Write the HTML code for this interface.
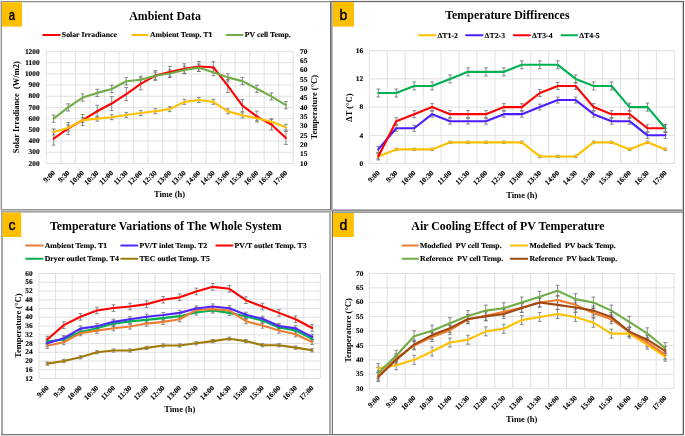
<!DOCTYPE html>
<html><head><meta charset="utf-8"><title>figure</title>
<style>
html,body{margin:0;padding:0;background:#fff;width:685px;height:436px;overflow:hidden;}
svg{display:block;will-change:transform;filter:blur(0.25px);}
text{font-family:"Liberation Serif",serif;font-weight:bold;fill:#000;}
text.tk{stroke:#000;stroke-width:0.12px;text-rendering:geometricPrecision;}
text.sans{font-family:"Liberation Sans",sans-serif;font-weight:normal;stroke:#000;stroke-width:0.45px;}
</style></head><body>
<svg width="685" height="436" viewBox="0 0 685 436">
<rect width="685" height="436" fill="#fff"/>
<path d="M46.4 163.5H293.2M46.4 152.29H293.2M46.4 141.08H293.2M46.4 129.87H293.2M46.4 118.66H293.2M46.4 107.45H293.2M46.4 96.24H293.2M46.4 85.03H293.2M46.4 73.82H293.2M46.4 62.61H293.2M46.4 51.4H293.2M46.4 51.4V163.5M60.92 51.4V163.5M75.44 51.4V163.5M89.95 51.4V163.5M104.47 51.4V163.5M118.99 51.4V163.5M133.51 51.4V163.5M148.02 51.4V163.5M162.54 51.4V163.5M177.06 51.4V163.5M191.58 51.4V163.5M206.09 51.4V163.5M220.61 51.4V163.5M235.13 51.4V163.5M249.65 51.4V163.5M264.16 51.4V163.5M278.68 51.4V163.5M293.2 51.4V163.5" stroke="#dcdcdc" stroke-width="0.9" fill="none"/>
<path d="M53.66 132.08V145.08M51.76 132.08h3.8M51.76 145.08h3.8M68.18 122.47V134.47M66.28 122.47h3.8M66.28 134.47h3.8M82.69 114.56V125.56M80.79 114.56h3.8M80.79 125.56h3.8M97.21 105.25V117.25M95.31 105.25h3.8M95.31 117.25h3.8M111.73 96.55V110.55M109.83 96.55h3.8M109.83 110.55h3.8M126.25 87.54V100.54M124.35 87.54h3.8M124.35 100.54h3.8M140.76 77.83V89.83M138.86 77.83h3.8M138.86 89.83h3.8M155.28 70.62V80.62M153.38 70.62h3.8M153.38 80.62h3.8M169.8 66.42V77.42M167.9 66.42h3.8M167.9 77.42h3.8M184.32 63.82V73.82M182.42 63.82h3.8M182.42 73.82h3.8M198.84 61.51V71.51M196.94 61.51h3.8M196.94 71.51h3.8M213.35 61.71V72.71M211.45 61.71h3.8M211.45 72.71h3.8M227.87 79.43V92.43M225.97 79.43h3.8M225.97 92.43h3.8M242.39 99.65V111.65M240.49 99.65h3.8M240.49 111.65h3.8M256.91 111.06V122.06M255.01 111.06h3.8M255.01 122.06h3.8M271.42 119.07V130.07M269.52 119.07h3.8M269.52 130.07h3.8M285.94 131.48V144.48M284.04 131.48h3.8M284.04 144.48h3.8M53.66 128.93V134.93M51.76 128.93h3.8M51.76 134.93h3.8M68.18 125V131M66.28 125h3.8M66.28 131h3.8M82.69 117.65V122.65M80.79 117.65h3.8M80.79 122.65h3.8M97.21 116.16V121.16M95.31 116.16h3.8M95.31 121.16h3.8M111.73 114.67V119.67M109.83 114.67h3.8M109.83 119.67h3.8M126.25 112.42V117.42M124.35 112.42h3.8M124.35 117.42h3.8M140.76 110.56V115.56M138.86 110.56h3.8M138.86 115.56h3.8M155.28 108.69V113.69M153.38 108.69h3.8M153.38 113.69h3.8M169.8 106.63V111.63M167.9 106.63h3.8M167.9 111.63h3.8M184.32 99.34V104.34M182.42 99.34h3.8M182.42 104.34h3.8M198.84 97.48V102.48M196.94 97.48h3.8M196.94 102.48h3.8M213.35 99.34V104.34M211.45 99.34h3.8M211.45 104.34h3.8M227.87 108.87V113.87M225.97 108.87h3.8M225.97 113.87h3.8M242.39 112.8V117.8M240.49 112.8h3.8M240.49 117.8h3.8M256.91 115.79V120.79M255.01 115.79h3.8M255.01 120.79h3.8M271.42 119.15V124.15M269.52 119.15h3.8M269.52 124.15h3.8M285.94 124.25V130.25M284.04 124.25h3.8M284.04 130.25h3.8M53.66 115.06V122.26M51.76 115.06h3.8M51.76 122.26h3.8M68.18 103.85V111.05M66.28 103.85h3.8M66.28 111.05h3.8M82.69 93.95V101.15M80.79 93.95h3.8M80.79 101.15h3.8M97.21 89.28V96.48M95.31 89.28h3.8M95.31 96.48h3.8M111.73 85.35V92.55M109.83 85.35h3.8M109.83 92.55h3.8M126.25 77.69V84.89M124.35 77.69h3.8M124.35 84.89h3.8M140.76 76.2V83.4M138.86 76.2h3.8M138.86 83.4h3.8M155.28 72.09V79.29M153.38 72.09h3.8M153.38 79.29h3.8M169.8 69.85V77.05M167.9 69.85h3.8M167.9 77.05h3.8M184.32 66.3V73.5M182.42 66.3h3.8M182.42 73.5h3.8M198.84 64.05V71.25M196.94 64.05h3.8M196.94 71.25h3.8M213.35 68.54V75.74M211.45 68.54h3.8M211.45 75.74h3.8M227.87 73.77V80.97M225.97 73.77h3.8M225.97 80.97h3.8M242.39 77.51V84.71M240.49 77.51h3.8M240.49 84.71h3.8M256.91 85.17V92.37M255.01 85.17h3.8M255.01 92.37h3.8M271.42 92.83V100.03M269.52 92.83h3.8M269.52 100.03h3.8M285.94 101.61V108.81M284.04 101.61h3.8M284.04 108.81h3.8" stroke="#6e6e6e" stroke-width="0.8" fill="none"/>
<path d="M53.66 138.58 L68.18 128.47 L82.69 120.06 L97.21 111.25 L111.73 103.55 L126.25 94.04 L140.76 83.83 L155.28 75.62 L169.8 71.92 L184.32 68.82 L198.84 66.51 L213.35 67.21 L227.87 85.93 L242.39 105.65 L256.91 116.56 L271.42 124.57 L285.94 137.98" stroke="#ff0000" stroke-width="2.1" fill="none" stroke-linejoin="round" stroke-linecap="round"/>
<path d="M53.66 131.93 L68.18 128 L82.69 120.15 L97.21 118.66 L111.73 117.17 L126.25 114.92 L140.76 113.06 L155.28 111.19 L169.8 109.13 L184.32 101.84 L198.84 99.98 L213.35 101.84 L227.87 111.37 L242.39 115.3 L256.91 118.29 L271.42 121.65 L285.94 127.25" stroke="#ffc000" stroke-width="2.1" fill="none" stroke-linejoin="round" stroke-linecap="round"/>
<path d="M53.66 118.66 L68.18 107.45 L82.69 97.55 L97.21 92.88 L111.73 88.95 L126.25 81.29 L140.76 79.8 L155.28 75.69 L169.8 73.45 L184.32 69.9 L198.84 67.65 L213.35 72.14 L227.87 77.37 L242.39 81.11 L256.91 88.77 L271.42 96.43 L285.94 105.21" stroke="#70ad47" stroke-width="2.1" fill="none" stroke-linejoin="round" stroke-linecap="round"/>
<text class="tk" font-size="7.15" text-anchor="end" transform="translate(39.6 165.7) scale(1.03 1)">200</text>
<text class="tk" font-size="7.15" text-anchor="end" transform="translate(39.6 154.49) scale(1.03 1)">300</text>
<text class="tk" font-size="7.15" text-anchor="end" transform="translate(39.6 143.28) scale(1.03 1)">400</text>
<text class="tk" font-size="7.15" text-anchor="end" transform="translate(39.6 132.07) scale(1.03 1)">500</text>
<text class="tk" font-size="7.15" text-anchor="end" transform="translate(39.6 120.86) scale(1.03 1)">600</text>
<text class="tk" font-size="7.15" text-anchor="end" transform="translate(39.6 109.65) scale(1.03 1)">700</text>
<text class="tk" font-size="7.15" text-anchor="end" transform="translate(39.6 98.44) scale(1.03 1)">800</text>
<text class="tk" font-size="7.15" text-anchor="end" transform="translate(39.6 87.23) scale(1.03 1)">900</text>
<text class="tk" font-size="7.15" text-anchor="end" transform="translate(39.6 76.02) scale(1.03 1)">1000</text>
<text class="tk" font-size="7.15" text-anchor="end" transform="translate(39.6 64.81) scale(1.03 1)">1100</text>
<text class="tk" font-size="7.15" text-anchor="end" transform="translate(39.6 53.6) scale(1.03 1)">1200</text>
<text class="tk" font-size="7.15" text-anchor="start" transform="translate(300 165.7) scale(1.03 1)">10</text>
<text class="tk" font-size="7.15" text-anchor="start" transform="translate(300 156.36) scale(1.03 1)">15</text>
<text class="tk" font-size="7.15" text-anchor="start" transform="translate(300 147.02) scale(1.03 1)">20</text>
<text class="tk" font-size="7.15" text-anchor="start" transform="translate(300 137.67) scale(1.03 1)">25</text>
<text class="tk" font-size="7.15" text-anchor="start" transform="translate(300 128.33) scale(1.03 1)">30</text>
<text class="tk" font-size="7.15" text-anchor="start" transform="translate(300 118.99) scale(1.03 1)">35</text>
<text class="tk" font-size="7.15" text-anchor="start" transform="translate(300 109.65) scale(1.03 1)">40</text>
<text class="tk" font-size="7.15" text-anchor="start" transform="translate(300 100.31) scale(1.03 1)">45</text>
<text class="tk" font-size="7.15" text-anchor="start" transform="translate(300 90.97) scale(1.03 1)">50</text>
<text class="tk" font-size="7.15" text-anchor="start" transform="translate(300 81.63) scale(1.03 1)">55</text>
<text class="tk" font-size="7.15" text-anchor="start" transform="translate(300 72.28) scale(1.03 1)">60</text>
<text class="tk" font-size="7.15" text-anchor="start" transform="translate(300 62.94) scale(1.03 1)">65</text>
<text class="tk" font-size="7.15" text-anchor="start" transform="translate(300 53.6) scale(1.03 1)">70</text>
<text class="tk" font-size="7.15" text-anchor="end" transform="translate(55.66 173.3) rotate(-45) scale(1.03 1)">9:00</text>
<text class="tk" font-size="7.15" text-anchor="end" transform="translate(70.18 173.3) rotate(-45) scale(1.03 1)">9:30</text>
<text class="tk" font-size="7.15" text-anchor="end" transform="translate(84.69 173.3) rotate(-45) scale(1.03 1)">10:00</text>
<text class="tk" font-size="7.15" text-anchor="end" transform="translate(99.21 173.3) rotate(-45) scale(1.03 1)">10:30</text>
<text class="tk" font-size="7.15" text-anchor="end" transform="translate(113.73 173.3) rotate(-45) scale(1.03 1)">11:00</text>
<text class="tk" font-size="7.15" text-anchor="end" transform="translate(128.25 173.3) rotate(-45) scale(1.03 1)">11:30</text>
<text class="tk" font-size="7.15" text-anchor="end" transform="translate(142.76 173.3) rotate(-45) scale(1.03 1)">12:00</text>
<text class="tk" font-size="7.15" text-anchor="end" transform="translate(157.28 173.3) rotate(-45) scale(1.03 1)">12:30</text>
<text class="tk" font-size="7.15" text-anchor="end" transform="translate(171.8 173.3) rotate(-45) scale(1.03 1)">13:00</text>
<text class="tk" font-size="7.15" text-anchor="end" transform="translate(186.32 173.3) rotate(-45) scale(1.03 1)">13:30</text>
<text class="tk" font-size="7.15" text-anchor="end" transform="translate(200.84 173.3) rotate(-45) scale(1.03 1)">14:00</text>
<text class="tk" font-size="7.15" text-anchor="end" transform="translate(215.35 173.3) rotate(-45) scale(1.03 1)">14:30</text>
<text class="tk" font-size="7.15" text-anchor="end" transform="translate(229.87 173.3) rotate(-45) scale(1.03 1)">15:00</text>
<text class="tk" font-size="7.15" text-anchor="end" transform="translate(244.39 173.3) rotate(-45) scale(1.03 1)">15:30</text>
<text class="tk" font-size="7.15" text-anchor="end" transform="translate(258.91 173.3) rotate(-45) scale(1.03 1)">16:00</text>
<text class="tk" font-size="7.15" text-anchor="end" transform="translate(273.42 173.3) rotate(-45) scale(1.03 1)">16:30</text>
<text class="tk" font-size="7.15" text-anchor="end" transform="translate(287.94 173.3) rotate(-45) scale(1.03 1)">17:00</text>
<text x="169.5" y="197.2" font-size="8.5" text-anchor="middle">Time (h)</text>
<text x="19.2" y="107.2" font-size="8.5" text-anchor="middle" transform="rotate(-90 19.2 107.2)" style="white-space:pre">Solar Irradiance  (W/m2)</text>
<text x="317.1" y="107.2" font-size="8.5" text-anchor="middle" transform="rotate(-90 317.1 107.2)">Temperature (°C)</text>
<text x="165" y="19.6" font-size="11.9" text-anchor="middle">Ambient Data</text>
<path d="M43.2 34.9H59.7" stroke="#ff0000" stroke-width="2" stroke-linecap="round"/>
<text class="tk" font-size="7.5" text-anchor="start" transform="translate(61.8 37.3) scale(1.04 1)" style="white-space:pre">Solar Irradiance</text>
<path d="M132.1 34.9H147.8" stroke="#ffc000" stroke-width="2" stroke-linecap="round"/>
<text class="tk" font-size="7.5" text-anchor="start" transform="translate(149.9 37.3) scale(1.04 1)" style="white-space:pre">Ambient Temp. T1</text>
<path d="M226.6 34.9H242.7" stroke="#70ad47" stroke-width="2" stroke-linecap="round"/>
<text class="tk" font-size="7.5" text-anchor="start" transform="translate(244.8 37.3) scale(1.04 1)" style="white-space:pre">PV cell Temp.</text>
<path d="M369.3 163.5H674.4M369.3 135.3H674.4M369.3 107.1H674.4M369.3 78.9H674.4M369.3 50.7H674.4M369.3 50.7V163.5M387.25 50.7V163.5M405.19 50.7V163.5M423.14 50.7V163.5M441.09 50.7V163.5M459.04 50.7V163.5M476.98 50.7V163.5M494.93 50.7V163.5M512.88 50.7V163.5M530.82 50.7V163.5M548.77 50.7V163.5M566.72 50.7V163.5M584.66 50.7V163.5M602.61 50.7V163.5M620.56 50.7V163.5M638.51 50.7V163.5M656.45 50.7V163.5M674.4 50.7V163.5" stroke="#dcdcdc" stroke-width="0.9" fill="none"/>
<path d="M378.27 153.95V158.95M376.37 153.95h3.8M376.37 158.95h3.8M396.22 148.2V150.6M394.32 148.2h3.8M394.32 150.6h3.8M414.17 148.2V150.6M412.27 148.2h3.8M412.27 150.6h3.8M432.11 148.2V150.6M430.21 148.2h3.8M430.21 150.6h3.8M450.06 141.15V143.55M448.16 141.15h3.8M448.16 143.55h3.8M468.01 141.15V143.55M466.11 141.15h3.8M466.11 143.55h3.8M485.96 141.15V143.55M484.06 141.15h3.8M484.06 143.55h3.8M503.9 141.15V143.55M502 141.15h3.8M502 143.55h3.8M521.85 141.15V143.55M519.95 141.15h3.8M519.95 143.55h3.8M539.8 155.25V157.65M537.9 155.25h3.8M537.9 157.65h3.8M557.74 155.25V157.65M555.84 155.25h3.8M555.84 157.65h3.8M575.69 155.25V157.65M573.79 155.25h3.8M573.79 157.65h3.8M593.64 141.15V143.55M591.74 141.15h3.8M591.74 143.55h3.8M611.59 141.15V143.55M609.69 141.15h3.8M609.69 143.55h3.8M629.53 148.2V150.6M627.63 148.2h3.8M627.63 150.6h3.8M647.48 141.15V143.55M645.58 141.15h3.8M645.58 143.55h3.8M665.43 148.2V150.6M663.53 148.2h3.8M663.53 150.6h3.8M378.27 146.4V152.4M376.37 146.4h3.8M376.37 152.4h3.8M396.22 125.25V131.25M394.32 125.25h3.8M394.32 131.25h3.8M414.17 125.25V131.25M412.27 125.25h3.8M412.27 131.25h3.8M432.11 111.15V117.15M430.21 111.15h3.8M430.21 117.15h3.8M450.06 118.2V124.2M448.16 118.2h3.8M448.16 124.2h3.8M468.01 118.2V124.2M466.11 118.2h3.8M466.11 124.2h3.8M485.96 118.2V124.2M484.06 118.2h3.8M484.06 124.2h3.8M503.9 111.15V117.15M502 111.15h3.8M502 117.15h3.8M521.85 111.15V117.15M519.95 111.15h3.8M519.95 117.15h3.8M539.8 104.1V110.1M537.9 104.1h3.8M537.9 110.1h3.8M557.74 97.05V103.05M555.84 97.05h3.8M555.84 103.05h3.8M575.69 97.05V103.05M573.79 97.05h3.8M573.79 103.05h3.8M593.64 111.15V117.15M591.74 111.15h3.8M591.74 117.15h3.8M611.59 118.2V124.2M609.69 118.2h3.8M609.69 124.2h3.8M629.53 118.2V124.2M627.63 118.2h3.8M627.63 124.2h3.8M647.48 132.3V138.3M645.58 132.3h3.8M645.58 138.3h3.8M665.43 132.3V138.3M663.53 132.3h3.8M663.53 138.3h3.8M378.27 152.95V159.95M376.37 152.95h3.8M376.37 159.95h3.8M396.22 117.7V124.7M394.32 117.7h3.8M394.32 124.7h3.8M414.17 110.65V117.65M412.27 110.65h3.8M412.27 117.65h3.8M432.11 103.6V110.6M430.21 103.6h3.8M430.21 110.6h3.8M450.06 110.65V117.65M448.16 110.65h3.8M448.16 117.65h3.8M468.01 110.65V117.65M466.11 110.65h3.8M466.11 117.65h3.8M485.96 110.65V117.65M484.06 110.65h3.8M484.06 117.65h3.8M503.9 103.6V110.6M502 103.6h3.8M502 110.6h3.8M521.85 103.6V110.6M519.95 103.6h3.8M519.95 110.6h3.8M539.8 89.5V96.5M537.9 89.5h3.8M537.9 96.5h3.8M557.74 82.45V89.45M555.84 82.45h3.8M555.84 89.45h3.8M575.69 82.45V89.45M573.79 82.45h3.8M573.79 89.45h3.8M593.64 103.6V110.6M591.74 103.6h3.8M591.74 110.6h3.8M611.59 110.65V117.65M609.69 110.65h3.8M609.69 117.65h3.8M629.53 110.65V117.65M627.63 110.65h3.8M627.63 117.65h3.8M647.48 124.75V131.75M645.58 124.75h3.8M645.58 131.75h3.8M665.43 124.75V131.75M663.53 124.75h3.8M663.53 131.75h3.8M378.27 89V97M376.37 89h3.8M376.37 97h3.8M396.22 89V97M394.32 89h3.8M394.32 97h3.8M414.17 81.95V89.95M412.27 81.95h3.8M412.27 89.95h3.8M432.11 81.95V89.95M430.21 81.95h3.8M430.21 89.95h3.8M450.06 74.9V82.9M448.16 74.9h3.8M448.16 82.9h3.8M468.01 67.85V75.85M466.11 67.85h3.8M466.11 75.85h3.8M485.96 67.85V75.85M484.06 67.85h3.8M484.06 75.85h3.8M503.9 67.85V75.85M502 67.85h3.8M502 75.85h3.8M521.85 60.8V68.8M519.95 60.8h3.8M519.95 68.8h3.8M539.8 60.8V68.8M537.9 60.8h3.8M537.9 68.8h3.8M557.74 60.8V68.8M555.84 60.8h3.8M555.84 68.8h3.8M575.69 74.9V82.9M573.79 74.9h3.8M573.79 82.9h3.8M593.64 81.95V89.95M591.74 81.95h3.8M591.74 89.95h3.8M611.59 81.95V89.95M609.69 81.95h3.8M609.69 89.95h3.8M629.53 103.1V111.1M627.63 103.1h3.8M627.63 111.1h3.8M647.48 103.1V111.1M645.58 103.1h3.8M645.58 111.1h3.8M665.43 124.25V132.25M663.53 124.25h3.8M663.53 132.25h3.8" stroke="#6e6e6e" stroke-width="0.8" fill="none"/>
<path d="M378.27 156.45 L396.22 149.4 L414.17 149.4 L432.11 149.4 L450.06 142.35 L468.01 142.35 L485.96 142.35 L503.9 142.35 L521.85 142.35 L539.8 156.45 L557.74 156.45 L575.69 156.45 L593.64 142.35 L611.59 142.35 L629.53 149.4 L647.48 142.35 L665.43 149.4" stroke="#ffc000" stroke-width="2.1" fill="none" stroke-linejoin="round" stroke-linecap="round"/>
<path d="M378.27 149.4 L396.22 128.25 L414.17 128.25 L432.11 114.15 L450.06 121.2 L468.01 121.2 L485.96 121.2 L503.9 114.15 L521.85 114.15 L539.8 107.1 L557.74 100.05 L575.69 100.05 L593.64 114.15 L611.59 121.2 L629.53 121.2 L647.48 135.3 L665.43 135.3" stroke="#4b1eff" stroke-width="2.1" fill="none" stroke-linejoin="round" stroke-linecap="round"/>
<path d="M378.27 156.45 L396.22 121.2 L414.17 114.15 L432.11 107.1 L450.06 114.15 L468.01 114.15 L485.96 114.15 L503.9 107.1 L521.85 107.1 L539.8 93 L557.74 85.95 L575.69 85.95 L593.64 107.1 L611.59 114.15 L629.53 114.15 L647.48 128.25 L665.43 128.25" stroke="#ff0000" stroke-width="2.1" fill="none" stroke-linejoin="round" stroke-linecap="round"/>
<path d="M378.27 93 L396.22 93 L414.17 85.95 L432.11 85.95 L450.06 78.9 L468.01 71.85 L485.96 71.85 L503.9 71.85 L521.85 64.8 L539.8 64.8 L557.74 64.8 L575.69 78.9 L593.64 85.95 L611.59 85.95 L629.53 107.1 L647.48 107.1 L665.43 128.25" stroke="#00b050" stroke-width="2.1" fill="none" stroke-linejoin="round" stroke-linecap="round"/>
<text class="tk" font-size="7.15" text-anchor="end" transform="translate(363.2 165.7) scale(1.03 1)">0</text>
<text class="tk" font-size="7.15" text-anchor="end" transform="translate(363.2 137.5) scale(1.03 1)">4</text>
<text class="tk" font-size="7.15" text-anchor="end" transform="translate(363.2 109.3) scale(1.03 1)">8</text>
<text class="tk" font-size="7.15" text-anchor="end" transform="translate(363.2 81.1) scale(1.03 1)">12</text>
<text class="tk" font-size="7.15" text-anchor="end" transform="translate(363.2 52.9) scale(1.03 1)">16</text>
<text class="tk" font-size="7.15" text-anchor="end" transform="translate(380.27 173.3) rotate(-45) scale(1.03 1)">9:00</text>
<text class="tk" font-size="7.15" text-anchor="end" transform="translate(398.22 173.3) rotate(-45) scale(1.03 1)">9:30</text>
<text class="tk" font-size="7.15" text-anchor="end" transform="translate(416.17 173.3) rotate(-45) scale(1.03 1)">10:00</text>
<text class="tk" font-size="7.15" text-anchor="end" transform="translate(434.11 173.3) rotate(-45) scale(1.03 1)">10:30</text>
<text class="tk" font-size="7.15" text-anchor="end" transform="translate(452.06 173.3) rotate(-45) scale(1.03 1)">11:00</text>
<text class="tk" font-size="7.15" text-anchor="end" transform="translate(470.01 173.3) rotate(-45) scale(1.03 1)">11:30</text>
<text class="tk" font-size="7.15" text-anchor="end" transform="translate(487.96 173.3) rotate(-45) scale(1.03 1)">12:00</text>
<text class="tk" font-size="7.15" text-anchor="end" transform="translate(505.9 173.3) rotate(-45) scale(1.03 1)">12:30</text>
<text class="tk" font-size="7.15" text-anchor="end" transform="translate(523.85 173.3) rotate(-45) scale(1.03 1)">13:00</text>
<text class="tk" font-size="7.15" text-anchor="end" transform="translate(541.8 173.3) rotate(-45) scale(1.03 1)">13:30</text>
<text class="tk" font-size="7.15" text-anchor="end" transform="translate(559.74 173.3) rotate(-45) scale(1.03 1)">14:00</text>
<text class="tk" font-size="7.15" text-anchor="end" transform="translate(577.69 173.3) rotate(-45) scale(1.03 1)">14:30</text>
<text class="tk" font-size="7.15" text-anchor="end" transform="translate(595.64 173.3) rotate(-45) scale(1.03 1)">15:00</text>
<text class="tk" font-size="7.15" text-anchor="end" transform="translate(613.59 173.3) rotate(-45) scale(1.03 1)">15:30</text>
<text class="tk" font-size="7.15" text-anchor="end" transform="translate(631.53 173.3) rotate(-45) scale(1.03 1)">16:00</text>
<text class="tk" font-size="7.15" text-anchor="end" transform="translate(649.48 173.3) rotate(-45) scale(1.03 1)">16:30</text>
<text class="tk" font-size="7.15" text-anchor="end" transform="translate(667.43 173.3) rotate(-45) scale(1.03 1)">17:00</text>
<text x="521.8" y="197.7" font-size="8.5" text-anchor="middle">Time (h)</text>
<text x="352" y="107.6" font-size="8.5" text-anchor="middle" transform="rotate(-90 352 107.6)">ΔT (°C)</text>
<text x="507.4" y="19.2" font-size="11.9" text-anchor="middle">Temperature Diffirences</text>
<path d="M419 35.3H435.3" stroke="#ffc000" stroke-width="2" stroke-linecap="round"/>
<text class="tk" font-size="7.5" text-anchor="start" transform="translate(437.4 37.7) scale(1.04 1)" style="white-space:pre">ΔT1-2</text>
<path d="M466.1 35.3H482.5" stroke="#4b1eff" stroke-width="2" stroke-linecap="round"/>
<text class="tk" font-size="7.5" text-anchor="start" transform="translate(484.6 37.7) scale(1.04 1)" style="white-space:pre">ΔT2-3</text>
<path d="M513.9 35.3H530" stroke="#ff0000" stroke-width="2" stroke-linecap="round"/>
<text class="tk" font-size="7.5" text-anchor="start" transform="translate(532.1 37.7) scale(1.04 1)" style="white-space:pre">ΔT3-4</text>
<path d="M561.5 35.3H577.1" stroke="#00b050" stroke-width="2" stroke-linecap="round"/>
<text class="tk" font-size="7.5" text-anchor="start" transform="translate(579.2 37.7) scale(1.04 1)" style="white-space:pre">ΔT4-5</text>
<path d="M39 378.5H320.4M39 369.75H320.4M39 361H320.4M39 352.25H320.4M39 343.5H320.4M39 334.75H320.4M39 326H320.4M39 317.25H320.4M39 308.5H320.4M39 299.75H320.4M39 291H320.4M39 282.25H320.4M39 273.5H320.4M39 273.5V378.5M55.55 273.5V378.5M72.11 273.5V378.5M88.66 273.5V378.5M105.21 273.5V378.5M121.76 273.5V378.5M138.32 273.5V378.5M154.87 273.5V378.5M171.42 273.5V378.5M187.98 273.5V378.5M204.53 273.5V378.5M221.08 273.5V378.5M237.64 273.5V378.5M254.19 273.5V378.5M270.74 273.5V378.5M287.29 273.5V378.5M303.85 273.5V378.5M320.4 273.5V378.5" stroke="#dcdcdc" stroke-width="0.9" fill="none"/>
<path d="M47.28 362.02V365.23M45.38 362.02h3.8M45.38 365.23h3.8M63.83 359.4V362.6M61.93 359.4h3.8M61.93 362.6h3.8M80.38 355.68V358.88M78.48 355.68h3.8M78.48 358.88h3.8M96.94 350.65V353.85M95.04 350.65h3.8M95.04 353.85h3.8M113.49 348.9V352.1M111.59 348.9h3.8M111.59 352.1h3.8M130.04 348.9V352.1M128.14 348.9h3.8M128.14 352.1h3.8M146.59 346.27V349.48M144.69 346.27h3.8M144.69 349.48h3.8M163.15 343.87V347.07M161.25 343.87h3.8M161.25 347.07h3.8M179.7 343.87V347.07M177.8 343.87h3.8M177.8 347.07h3.8M196.25 341.68V344.88M194.35 341.68h3.8M194.35 344.88h3.8M212.81 339.49V342.69M210.91 339.49h3.8M210.91 342.69h3.8M229.36 337.09V340.29M227.46 337.09h3.8M227.46 340.29h3.8M245.91 339.49V342.69M244.01 339.49h3.8M244.01 342.69h3.8M262.46 343.65V346.85M260.56 343.65h3.8M260.56 346.85h3.8M279.02 343.65V346.85M277.12 343.65h3.8M277.12 346.85h3.8M295.57 346.06V349.26M293.67 346.06h3.8M293.67 349.26h3.8M312.12 348.68V351.88M310.22 348.68h3.8M310.22 351.88h3.8M47.28 338.93V344.13M45.38 338.93h3.8M45.38 344.13h3.8M63.83 336.96V342.16M61.93 336.96h3.8M61.93 342.16h3.8M80.38 329.31V334.51M78.48 329.31h3.8M78.48 334.51h3.8M96.94 325.59V330.79M95.04 325.59h3.8M95.04 330.79h3.8M113.49 320.99V326.19M111.59 320.99h3.8M111.59 326.19h3.8M130.04 318.81V324.01M128.14 318.81h3.8M128.14 324.01h3.8M146.59 317.27V322.48M144.69 317.27h3.8M144.69 322.48h3.8M163.15 315.52V320.73M161.25 315.52h3.8M161.25 320.73h3.8M179.7 313.56V318.76M177.8 313.56h3.8M177.8 318.76h3.8M196.25 309.84V315.04M194.35 309.84h3.8M194.35 315.04h3.8M212.81 307.87V313.07M210.91 307.87h3.8M210.91 313.07h3.8M229.36 310.27V315.48M227.46 310.27h3.8M227.46 315.48h3.8M245.91 313.99V319.19M244.01 313.99h3.8M244.01 319.19h3.8M262.46 317.93V323.13M260.56 317.93h3.8M260.56 323.13h3.8M279.02 324.93V330.13M277.12 324.93h3.8M277.12 330.13h3.8M295.57 327.99V333.19M293.67 327.99h3.8M293.67 333.19h3.8M312.12 336.09V341.29M310.22 336.09h3.8M310.22 341.29h3.8M47.28 343.09V348.29M45.38 343.09h3.8M45.38 348.29h3.8M63.83 339.59V344.79M61.93 339.59h3.8M61.93 344.79h3.8M80.38 330.62V335.82M78.48 330.62h3.8M78.48 335.82h3.8M96.94 327.99V333.19M95.04 327.99h3.8M95.04 333.19h3.8M113.49 325.59V330.79M111.59 325.59h3.8M111.59 330.79h3.8M130.04 323.84V329.04M128.14 323.84h3.8M128.14 329.04h3.8M146.59 320.99V326.19M144.69 320.99h3.8M144.69 326.19h3.8M163.15 319.24V324.44M161.25 319.24h3.8M161.25 324.44h3.8M179.7 316.62V321.82M177.8 316.62h3.8M177.8 321.82h3.8M196.25 307.43V312.63M194.35 307.43h3.8M194.35 312.63h3.8M212.81 306.56V311.76M210.91 306.56h3.8M210.91 311.76h3.8M229.36 307.87V313.07M227.46 307.87h3.8M227.46 313.07h3.8M245.91 318.59V323.79M244.01 318.59h3.8M244.01 323.79h3.8M262.46 322.96V328.16M260.56 322.96h3.8M260.56 328.16h3.8M279.02 327.99V333.19M277.12 327.99h3.8M277.12 333.19h3.8M295.57 331.71V336.91M293.67 331.71h3.8M293.67 336.91h3.8M312.12 339.37V344.57M310.22 339.37h3.8M310.22 344.57h3.8M47.28 340.68V345.88M45.38 340.68h3.8M45.38 345.88h3.8M63.83 335.65V340.85M61.93 335.65h3.8M61.93 340.85h3.8M80.38 326.02V331.23M78.48 326.02h3.8M78.48 331.23h3.8M96.94 323.62V328.82M95.04 323.62h3.8M95.04 328.82h3.8M113.49 319.24V324.44M111.59 319.24h3.8M111.59 324.44h3.8M130.04 316.62V321.82M128.14 316.62h3.8M128.14 321.82h3.8M146.59 314.21V319.41M144.69 314.21h3.8M144.69 319.41h3.8M163.15 312.46V317.66M161.25 312.46h3.8M161.25 317.66h3.8M179.7 310.27V315.48M177.8 310.27h3.8M177.8 315.48h3.8M196.25 305.9V311.1M194.35 305.9h3.8M194.35 311.1h3.8M212.81 303.93V309.13M210.91 303.93h3.8M210.91 309.13h3.8M229.36 305.68V310.88M227.46 305.68h3.8M227.46 310.88h3.8M245.91 312.24V317.44M244.01 312.24h3.8M244.01 317.44h3.8M262.46 316.18V321.38M260.56 316.18h3.8M260.56 321.38h3.8M279.02 323.4V328.6M277.12 323.4h3.8M277.12 328.6h3.8M295.57 325.81V331.01M293.67 325.81h3.8M293.67 331.01h3.8M312.12 334.34V339.54M310.22 334.34h3.8M310.22 339.54h3.8M47.28 336.26V342.86M45.38 336.26h3.8M45.38 342.86h3.8M63.83 321.82V328.43M61.93 321.82h3.8M61.93 328.43h3.8M80.38 313.51V320.11M78.48 313.51h3.8M78.48 320.11h3.8M96.94 307.17V313.77M95.04 307.17h3.8M95.04 313.77h3.8M113.49 304.76V311.36M111.59 304.76h3.8M111.59 311.36h3.8M130.04 303.23V309.83M128.14 303.23h3.8M128.14 309.83h3.8M146.59 300.82V307.43M144.69 300.82h3.8M144.69 307.43h3.8M163.15 296.45V303.05M161.25 296.45h3.8M161.25 303.05h3.8M179.7 294.04V300.64M177.8 294.04h3.8M177.8 300.64h3.8M196.25 288.14V294.74M194.35 288.14h3.8M194.35 294.74h3.8M212.81 283.54V290.14M210.91 283.54h3.8M210.91 290.14h3.8M229.36 285.51V292.11M227.46 285.51h3.8M227.46 292.11h3.8M245.91 296.89V303.49M244.01 296.89h3.8M244.01 303.49h3.8M262.46 303.23V309.83M260.56 303.23h3.8M260.56 309.83h3.8M279.02 309.57V316.18M277.12 309.57h3.8M277.12 316.18h3.8M295.57 315.92V322.52M293.67 315.92h3.8M293.67 322.52h3.8M312.12 324.67V331.27M310.22 324.67h3.8M310.22 331.27h3.8" stroke="#6e6e6e" stroke-width="0.8" fill="none"/>
<path d="M47.28 363.62 L63.83 361 L80.38 357.28 L96.94 352.25 L113.49 350.5 L130.04 350.5 L146.59 347.88 L163.15 345.47 L179.7 345.47 L196.25 343.28 L212.81 341.09 L229.36 338.69 L245.91 341.09 L262.46 345.25 L279.02 345.25 L295.57 347.66 L312.12 350.28" stroke="#9f7a06" stroke-width="2.1" fill="none" stroke-linejoin="round" stroke-linecap="round"/>
<path d="M47.28 341.53 L63.83 339.56 L80.38 331.91 L96.94 328.19 L113.49 323.59 L130.04 321.41 L146.59 319.88 L163.15 318.12 L179.7 316.16 L196.25 312.44 L212.81 310.47 L229.36 312.88 L245.91 316.59 L262.46 320.53 L279.02 327.53 L295.57 330.59 L312.12 338.69" stroke="#00b050" stroke-width="2.1" fill="none" stroke-linejoin="round" stroke-linecap="round"/>
<path d="M47.28 345.69 L63.83 342.19 L80.38 333.22 L96.94 330.59 L113.49 328.19 L130.04 326.44 L146.59 323.59 L163.15 321.84 L179.7 319.22 L196.25 310.03 L212.81 309.16 L229.36 310.47 L245.91 321.19 L262.46 325.56 L279.02 330.59 L295.57 334.31 L312.12 341.97" stroke="#ed7d31" stroke-width="2.1" fill="none" stroke-linejoin="round" stroke-linecap="round"/>
<path d="M47.28 343.28 L63.83 338.25 L80.38 328.62 L96.94 326.22 L113.49 321.84 L130.04 319.22 L146.59 316.81 L163.15 315.06 L179.7 312.88 L196.25 308.5 L212.81 306.53 L229.36 308.28 L245.91 314.84 L262.46 318.78 L279.02 326 L295.57 328.41 L312.12 336.94" stroke="#5028ff" stroke-width="2.1" fill="none" stroke-linejoin="round" stroke-linecap="round"/>
<path d="M47.28 339.56 L63.83 325.12 L80.38 316.81 L96.94 310.47 L113.49 308.06 L130.04 306.53 L146.59 304.12 L163.15 299.75 L179.7 297.34 L196.25 291.44 L212.81 286.84 L229.36 288.81 L245.91 300.19 L262.46 306.53 L279.02 312.88 L295.57 319.22 L312.12 327.97" stroke="#ff0000" stroke-width="2.1" fill="none" stroke-linejoin="round" stroke-linecap="round"/>
<text class="tk" font-size="7.15" text-anchor="end" transform="translate(32.6 380.7) scale(1.03 1)">12</text>
<text class="tk" font-size="7.15" text-anchor="end" transform="translate(32.6 371.95) scale(1.03 1)">16</text>
<text class="tk" font-size="7.15" text-anchor="end" transform="translate(32.6 363.2) scale(1.03 1)">20</text>
<text class="tk" font-size="7.15" text-anchor="end" transform="translate(32.6 354.45) scale(1.03 1)">24</text>
<text class="tk" font-size="7.15" text-anchor="end" transform="translate(32.6 345.7) scale(1.03 1)">28</text>
<text class="tk" font-size="7.15" text-anchor="end" transform="translate(32.6 336.95) scale(1.03 1)">32</text>
<text class="tk" font-size="7.15" text-anchor="end" transform="translate(32.6 328.2) scale(1.03 1)">36</text>
<text class="tk" font-size="7.15" text-anchor="end" transform="translate(32.6 319.45) scale(1.03 1)">40</text>
<text class="tk" font-size="7.15" text-anchor="end" transform="translate(32.6 310.7) scale(1.03 1)">44</text>
<text class="tk" font-size="7.15" text-anchor="end" transform="translate(32.6 301.95) scale(1.03 1)">48</text>
<text class="tk" font-size="7.15" text-anchor="end" transform="translate(32.6 293.2) scale(1.03 1)">52</text>
<text class="tk" font-size="7.15" text-anchor="end" transform="translate(32.6 284.45) scale(1.03 1)">56</text>
<text class="tk" font-size="7.15" text-anchor="end" transform="translate(32.6 275.7) scale(1.03 1)">60</text>
<text class="tk" font-size="7.15" text-anchor="end" transform="translate(49.28 388.3) rotate(-45) scale(1.03 1)">9:00</text>
<text class="tk" font-size="7.15" text-anchor="end" transform="translate(65.83 388.3) rotate(-45) scale(1.03 1)">9:30</text>
<text class="tk" font-size="7.15" text-anchor="end" transform="translate(82.38 388.3) rotate(-45) scale(1.03 1)">10:00</text>
<text class="tk" font-size="7.15" text-anchor="end" transform="translate(98.94 388.3) rotate(-45) scale(1.03 1)">10:30</text>
<text class="tk" font-size="7.15" text-anchor="end" transform="translate(115.49 388.3) rotate(-45) scale(1.03 1)">11:00</text>
<text class="tk" font-size="7.15" text-anchor="end" transform="translate(132.04 388.3) rotate(-45) scale(1.03 1)">11:30</text>
<text class="tk" font-size="7.15" text-anchor="end" transform="translate(148.59 388.3) rotate(-45) scale(1.03 1)">12:00</text>
<text class="tk" font-size="7.15" text-anchor="end" transform="translate(165.15 388.3) rotate(-45) scale(1.03 1)">12:30</text>
<text class="tk" font-size="7.15" text-anchor="end" transform="translate(181.7 388.3) rotate(-45) scale(1.03 1)">13:00</text>
<text class="tk" font-size="7.15" text-anchor="end" transform="translate(198.25 388.3) rotate(-45) scale(1.03 1)">13:30</text>
<text class="tk" font-size="7.15" text-anchor="end" transform="translate(214.81 388.3) rotate(-45) scale(1.03 1)">14:00</text>
<text class="tk" font-size="7.15" text-anchor="end" transform="translate(231.36 388.3) rotate(-45) scale(1.03 1)">14:30</text>
<text class="tk" font-size="7.15" text-anchor="end" transform="translate(247.91 388.3) rotate(-45) scale(1.03 1)">15:00</text>
<text class="tk" font-size="7.15" text-anchor="end" transform="translate(264.46 388.3) rotate(-45) scale(1.03 1)">15:30</text>
<text class="tk" font-size="7.15" text-anchor="end" transform="translate(281.02 388.3) rotate(-45) scale(1.03 1)">16:00</text>
<text class="tk" font-size="7.15" text-anchor="end" transform="translate(297.57 388.3) rotate(-45) scale(1.03 1)">16:30</text>
<text class="tk" font-size="7.15" text-anchor="end" transform="translate(314.12 388.3) rotate(-45) scale(1.03 1)">17:00</text>
<text x="179.8" y="412.2" font-size="8.5" text-anchor="middle">Time (h)</text>
<text x="21" y="325.7" font-size="8.5" text-anchor="middle" transform="rotate(-90 21 325.7)">Temperature (°C)</text>
<text x="165.8" y="230" font-size="11.9" text-anchor="middle">Temperature Variations of The Whole System</text>
<path d="M26.2 245.4H42.6" stroke="#ed7d31" stroke-width="2" stroke-linecap="round"/>
<text class="tk" font-size="7.5" text-anchor="start" transform="translate(44.7 247.8) scale(1.04 1)" style="white-space:pre">Ambient Temp. T1</text>
<path d="M121.2 245.4H137.3" stroke="#5028ff" stroke-width="2" stroke-linecap="round"/>
<text class="tk" font-size="7.5" text-anchor="start" transform="translate(139.4 247.8) scale(1.04 1)" style="white-space:pre">PV/T inlet Temp. T2</text>
<path d="M216.3 245.4H232.4" stroke="#ff0000" stroke-width="2" stroke-linecap="round"/>
<text class="tk" font-size="7.5" text-anchor="start" transform="translate(234.5 247.8) scale(1.04 1)" style="white-space:pre">PV/T outlet Temp. T3</text>
<path d="M26.2 258.8H42.6" stroke="#00b050" stroke-width="2" stroke-linecap="round"/>
<text class="tk" font-size="7.5" text-anchor="start" transform="translate(44.7 261.2) scale(1.04 1)" style="white-space:pre">Dryer outlet Temp. T4</text>
<path d="M121.2 258.8H137.3" stroke="#9f7a06" stroke-width="2" stroke-linecap="round"/>
<text class="tk" font-size="7.5" text-anchor="start" transform="translate(139.4 261.2) scale(1.04 1)" style="white-space:pre">TEC outlet Temp. T5</text>
<path d="M369.3 388.6H674.1M369.3 374.21H674.1M369.3 359.83H674.1M369.3 345.44H674.1M369.3 331.05H674.1M369.3 316.66H674.1M369.3 302.27H674.1M369.3 287.89H674.1M369.3 273.5H674.1M369.3 273.5V388.6M387.23 273.5V388.6M405.16 273.5V388.6M423.09 273.5V388.6M441.02 273.5V388.6M458.95 273.5V388.6M476.88 273.5V388.6M494.81 273.5V388.6M512.74 273.5V388.6M530.66 273.5V388.6M548.59 273.5V388.6M566.52 273.5V388.6M584.45 273.5V388.6M602.38 273.5V388.6M620.31 273.5V388.6M638.24 273.5V388.6M656.17 273.5V388.6M674.1 273.5V388.6" stroke="#dcdcdc" stroke-width="0.9" fill="none"/>
<path d="M378.26 363.67V372.67M376.36 363.67h3.8M376.36 372.67h3.8M396.19 360.79V369.79M394.29 360.79h3.8M394.29 369.79h3.8M414.12 355.33V364.33M412.22 355.33h3.8M412.22 364.33h3.8M432.05 346.98V355.98M430.15 346.98h3.8M430.15 355.98h3.8M449.98 338.06V347.06M448.08 338.06h3.8M448.08 347.06h3.8M467.91 335.18V344.18M466.01 335.18h3.8M466.01 344.18h3.8M485.84 326.84V335.84M483.94 326.84h3.8M483.94 335.84h3.8M503.77 324.25V333.25M501.87 324.25h3.8M501.87 333.25h3.8M521.7 315.62V324.62M519.8 315.62h3.8M519.8 324.62h3.8M539.63 312.45V321.45M537.73 312.45h3.8M537.73 321.45h3.8M557.56 309.57V318.57M555.66 309.57h3.8M555.66 318.57h3.8M575.49 312.45V321.45M573.59 312.45h3.8M573.59 321.45h3.8M593.42 318.21V327.21M591.52 318.21h3.8M591.52 327.21h3.8M611.35 329.14V338.14M609.45 329.14h3.8M609.45 338.14h3.8M629.28 329.14V338.14M627.38 329.14h3.8M627.38 338.14h3.8M647.21 340.07V349.07M645.31 340.07h3.8M645.31 349.07h3.8M665.14 352.16V361.16M663.24 352.16h3.8M663.24 361.16h3.8M378.26 371.15V380.15M376.36 371.15h3.8M376.36 380.15h3.8M396.19 353.89V362.89M394.29 353.89h3.8M394.29 362.89h3.8M414.12 340.94V349.94M412.22 340.94h3.8M412.22 349.94h3.8M432.05 332.59V341.59M430.15 332.59h3.8M430.15 341.59h3.8M449.98 325.69V334.69M448.08 325.69h3.8M448.08 334.69h3.8M467.91 314.75V323.75M466.01 314.75h3.8M466.01 323.75h3.8M485.84 311.3V320.3M483.94 311.3h3.8M483.94 320.3h3.8M503.77 307.27V316.27M501.87 307.27h3.8M501.87 316.27h3.8M521.7 303.24V312.24M519.8 303.24h3.8M519.8 312.24h3.8M539.63 298.06V307.06M537.73 298.06h3.8M537.73 307.06h3.8M557.56 295.47V304.47M555.66 295.47h3.8M555.66 304.47h3.8M575.49 300.36V309.36M573.59 300.36h3.8M573.59 309.36h3.8M593.42 308.42V317.42M591.52 308.42h3.8M591.52 317.42h3.8M611.35 314.75V323.75M609.45 314.75h3.8M609.45 323.75h3.8M629.28 327.41V336.41M627.38 327.41h3.8M627.38 336.41h3.8M647.21 337.77V346.77M645.31 337.77h3.8M645.31 346.77h3.8M665.14 350.15V359.15M663.24 350.15h3.8M663.24 359.15h3.8M378.26 372.59V381.59M376.36 372.59h3.8M376.36 381.59h3.8M396.19 355.33V364.33M394.29 355.33h3.8M394.29 364.33h3.8M414.12 340.07V349.07M412.22 340.07h3.8M412.22 349.07h3.8M432.05 330.58V339.58M430.15 330.58h3.8M430.15 339.58h3.8M449.98 323.67V332.67M448.08 323.67h3.8M448.08 332.67h3.8M467.91 314.46V323.46M466.01 314.46h3.8M466.01 323.46h3.8M485.84 311.87V320.87M483.94 311.87h3.8M483.94 320.87h3.8M503.77 309.57V318.57M501.87 309.57h3.8M501.87 318.57h3.8M521.7 303.53V312.53M519.8 303.53h3.8M519.8 312.53h3.8M539.63 298.06V307.06M537.73 298.06h3.8M537.73 307.06h3.8M557.56 300.36V309.36M555.66 300.36h3.8M555.66 309.36h3.8M575.49 302.95V311.95M573.59 302.95h3.8M573.59 311.95h3.8M593.42 306.12V315.12M591.52 306.12h3.8M591.52 315.12h3.8M611.35 312.45V321.45M609.45 312.45h3.8M609.45 321.45h3.8M629.28 327.13V336.13M627.38 327.13h3.8M627.38 336.13h3.8M647.21 335.18V344.18M645.31 335.18h3.8M645.31 344.18h3.8M665.14 346.4V355.4M663.24 346.4h3.8M663.24 355.4h3.8M378.26 367.27V378.27M376.36 367.27h3.8M376.36 378.27h3.8M396.19 350.3V361.3M394.29 350.3h3.8M394.29 361.3h3.8M414.12 330.73V341.73M412.22 330.73h3.8M412.22 341.73h3.8M432.05 325.26V336.26M430.15 325.26h3.8M430.15 336.26h3.8M449.98 317.78V328.78M448.08 317.78h3.8M448.08 328.78h3.8M467.91 310.59V321.59M466.01 310.59h3.8M466.01 321.59h3.8M485.84 305.12V316.12M483.94 305.12h3.8M483.94 316.12h3.8M503.77 302.82V313.82M501.87 302.82h3.8M501.87 313.82h3.8M521.7 297.06V308.06M519.8 297.06h3.8M519.8 308.06h3.8M539.63 291.31V302.31M537.73 291.31h3.8M537.73 302.31h3.8M557.56 285.26V296.26M555.66 285.26h3.8M555.66 296.26h3.8M575.49 293.61V304.61M573.59 293.61h3.8M573.59 304.61h3.8M593.42 297.06V308.06M591.52 297.06h3.8M591.52 308.06h3.8M611.35 305.12V316.12M609.45 305.12h3.8M609.45 316.12h3.8M629.28 316.34V327.34M627.38 316.34h3.8M627.38 327.34h3.8M647.21 327.85V338.85M645.31 327.85h3.8M645.31 338.85h3.8M665.14 342.53V353.53M663.24 342.53h3.8M663.24 353.53h3.8" stroke="#6e6e6e" stroke-width="0.8" fill="none"/>
<path d="M378.26 368.17 L396.19 365.29 L414.12 359.83 L432.05 351.48 L449.98 342.56 L467.91 339.68 L485.84 331.34 L503.77 328.75 L521.7 320.12 L539.63 316.95 L557.56 314.07 L575.49 316.95 L593.42 322.71 L611.35 333.64 L629.28 333.64 L647.21 344.57 L665.14 356.66" stroke="#ffc000" stroke-width="2.1" fill="none" stroke-linejoin="round" stroke-linecap="round"/>
<path d="M378.26 375.65 L396.19 358.39 L414.12 345.44 L432.05 337.09 L449.98 330.19 L467.91 319.25 L485.84 315.8 L503.77 311.77 L521.7 307.74 L539.63 302.56 L557.56 299.97 L575.49 304.86 L593.42 312.92 L611.35 319.25 L629.28 331.91 L647.21 342.27 L665.14 354.65" stroke="#ed7d31" stroke-width="2.1" fill="none" stroke-linejoin="round" stroke-linecap="round"/>
<path d="M378.26 377.09 L396.19 359.83 L414.12 344.57 L432.05 335.08 L449.98 328.17 L467.91 318.96 L485.84 316.37 L503.77 314.07 L521.7 308.03 L539.63 302.56 L557.56 304.86 L575.49 307.45 L593.42 310.62 L611.35 316.95 L629.28 331.63 L647.21 339.68 L665.14 350.9" stroke="#a0480f" stroke-width="2.1" fill="none" stroke-linejoin="round" stroke-linecap="round"/>
<path d="M378.26 372.77 L396.19 355.8 L414.12 336.23 L432.05 330.76 L449.98 323.28 L467.91 316.09 L485.84 310.62 L503.77 308.32 L521.7 302.56 L539.63 296.81 L557.56 290.76 L575.49 299.11 L593.42 302.56 L611.35 310.62 L629.28 321.84 L647.21 333.35 L665.14 348.03" stroke="#70ad47" stroke-width="2.1" fill="none" stroke-linejoin="round" stroke-linecap="round"/>
<text class="tk" font-size="7.15" text-anchor="end" transform="translate(363.4 390.8) scale(1.03 1)">30</text>
<text class="tk" font-size="7.15" text-anchor="end" transform="translate(363.4 376.41) scale(1.03 1)">35</text>
<text class="tk" font-size="7.15" text-anchor="end" transform="translate(363.4 362.03) scale(1.03 1)">40</text>
<text class="tk" font-size="7.15" text-anchor="end" transform="translate(363.4 347.64) scale(1.03 1)">45</text>
<text class="tk" font-size="7.15" text-anchor="end" transform="translate(363.4 333.25) scale(1.03 1)">50</text>
<text class="tk" font-size="7.15" text-anchor="end" transform="translate(363.4 318.86) scale(1.03 1)">55</text>
<text class="tk" font-size="7.15" text-anchor="end" transform="translate(363.4 304.47) scale(1.03 1)">60</text>
<text class="tk" font-size="7.15" text-anchor="end" transform="translate(363.4 290.09) scale(1.03 1)">65</text>
<text class="tk" font-size="7.15" text-anchor="end" transform="translate(363.4 275.7) scale(1.03 1)">70</text>
<text class="tk" font-size="7.15" text-anchor="end" transform="translate(380.26 398.4) rotate(-45) scale(1.03 1)">9:00</text>
<text class="tk" font-size="7.15" text-anchor="end" transform="translate(398.19 398.4) rotate(-45) scale(1.03 1)">9:30</text>
<text class="tk" font-size="7.15" text-anchor="end" transform="translate(416.12 398.4) rotate(-45) scale(1.03 1)">10:00</text>
<text class="tk" font-size="7.15" text-anchor="end" transform="translate(434.05 398.4) rotate(-45) scale(1.03 1)">10:30</text>
<text class="tk" font-size="7.15" text-anchor="end" transform="translate(451.98 398.4) rotate(-45) scale(1.03 1)">11:00</text>
<text class="tk" font-size="7.15" text-anchor="end" transform="translate(469.91 398.4) rotate(-45) scale(1.03 1)">11:30</text>
<text class="tk" font-size="7.15" text-anchor="end" transform="translate(487.84 398.4) rotate(-45) scale(1.03 1)">12:00</text>
<text class="tk" font-size="7.15" text-anchor="end" transform="translate(505.77 398.4) rotate(-45) scale(1.03 1)">12:30</text>
<text class="tk" font-size="7.15" text-anchor="end" transform="translate(523.7 398.4) rotate(-45) scale(1.03 1)">13:00</text>
<text class="tk" font-size="7.15" text-anchor="end" transform="translate(541.63 398.4) rotate(-45) scale(1.03 1)">13:30</text>
<text class="tk" font-size="7.15" text-anchor="end" transform="translate(559.56 398.4) rotate(-45) scale(1.03 1)">14:00</text>
<text class="tk" font-size="7.15" text-anchor="end" transform="translate(577.49 398.4) rotate(-45) scale(1.03 1)">14:30</text>
<text class="tk" font-size="7.15" text-anchor="end" transform="translate(595.42 398.4) rotate(-45) scale(1.03 1)">15:00</text>
<text class="tk" font-size="7.15" text-anchor="end" transform="translate(613.35 398.4) rotate(-45) scale(1.03 1)">15:30</text>
<text class="tk" font-size="7.15" text-anchor="end" transform="translate(631.28 398.4) rotate(-45) scale(1.03 1)">16:00</text>
<text class="tk" font-size="7.15" text-anchor="end" transform="translate(649.21 398.4) rotate(-45) scale(1.03 1)">16:30</text>
<text class="tk" font-size="7.15" text-anchor="end" transform="translate(667.14 398.4) rotate(-45) scale(1.03 1)">17:00</text>
<text x="521.7" y="421.9" font-size="8.5" text-anchor="middle">Time (h)</text>
<text x="351" y="330.5" font-size="8.5" text-anchor="middle" transform="rotate(-90 351 330.5)">Temperature (°C)</text>
<text x="507.9" y="230" font-size="11.9" text-anchor="middle">Air Cooling Effect of PV Temperature</text>
<path d="M402.6 245.4H418" stroke="#ed7d31" stroke-width="2" stroke-linecap="round"/>
<text class="tk" font-size="7.5" text-anchor="start" transform="translate(420.1 247.8) scale(1.04 1)" style="white-space:pre">Modefied  PV cell Temp.</text>
<path d="M510.7 245.4H527.3" stroke="#ffc000" stroke-width="2" stroke-linecap="round"/>
<text class="tk" font-size="7.5" text-anchor="start" transform="translate(529.4 247.8) scale(1.04 1)" style="white-space:pre">Modefied  PV back Temp.</text>
<path d="M402.6 258.8H418" stroke="#70ad47" stroke-width="2" stroke-linecap="round"/>
<text class="tk" font-size="7.5" text-anchor="start" transform="translate(420.1 261.2) scale(1.04 1)" style="white-space:pre">Reference  PV cell Temp.</text>
<path d="M510.7 258.8H527.3" stroke="#a0480f" stroke-width="2" stroke-linecap="round"/>
<text class="tk" font-size="7.5" text-anchor="start" transform="translate(529.4 261.2) scale(1.04 1)" style="white-space:pre">Reference  PV back Temp.</text>
<rect x="0" y="1" width="1" height="209" fill="#d6d6d6"/>
<rect x="1" y="1" width="330" height="1" fill="#8c8c8c"/>
<rect x="2" y="2" width="328" height="1" fill="#e2e2e2"/>
<rect x="1" y="1" width="1" height="210" fill="#939393"/>
<rect x="330" y="1" width="1" height="210" fill="#686868"/>
<rect x="1" y="209" width="329" height="1" fill="#959595"/>
<rect x="1" y="210" width="330" height="1" fill="#c4c4c4"/>
<rect x="331" y="0" width="353" height="1" fill="#ececec"/>
<rect x="331" y="1" width="353" height="1" fill="#6a6a6a"/>
<rect x="333" y="2" width="350" height="1" fill="#e6e6e6"/>
<rect x="331" y="1" width="1" height="210" fill="#9a9a9a"/>
<rect x="332" y="2" width="1" height="209" fill="#bdbdbd"/>
<rect x="682" y="2" width="1" height="432" fill="#cfcfcf"/>
<rect x="683" y="1" width="1" height="434" fill="#5a5a5a"/>
<rect x="333" y="209" width="349" height="1" fill="#b5b5b5"/>
<rect x="331" y="210" width="353" height="1" fill="#8c8c8c"/>
<rect x="1" y="211" width="330" height="1" fill="#a0a0a0"/>
<rect x="1" y="212" width="329" height="1" fill="#c8c8c8"/>
<rect x="1" y="211" width="2" height="224" fill="#a9a9a9"/>
<rect x="329" y="211" width="1" height="224" fill="#acacac"/>
<rect x="330" y="211" width="1" height="224" fill="#b0b0b0"/>
<rect x="331" y="211" width="1" height="224" fill="#e2e2e2"/>
<rect x="1" y="434" width="331" height="1" fill="#7a7a7a"/>
<rect x="1" y="435" width="331" height="1" fill="#d9d9d9"/>
<rect x="332" y="211" width="351" height="1" fill="#b5b5b5"/>
<rect x="332" y="212" width="351" height="1" fill="#9b9b9b"/>
<rect x="332" y="211" width="1" height="224" fill="#747474"/>
<rect x="332" y="434" width="352" height="1" fill="#6e6e6e"/>
<rect x="332" y="435" width="351" height="1" fill="#d9d9d9"/>
<rect x="2" y="2.3" width="20" height="24.3" fill="#ffc000"/>
<text x="11.8" y="20.1" font-size="14" text-anchor="middle" class="sans" textLength="6.3" lengthAdjust="spacingAndGlyphs">a</text>
<rect x="333" y="2" width="21" height="24.6" fill="#ffc000"/>
<text x="343.5" y="19.5" font-size="14" text-anchor="middle" class="sans">b</text>
<rect x="2.5" y="212.5" width="18.7" height="24.5" fill="#ffc000"/>
<text x="11.9" y="230.4" font-size="14" text-anchor="middle" class="sans">c</text>
<rect x="333" y="213" width="20.8" height="24" fill="#ffc000"/>
<text x="343.4" y="230.3" font-size="14" text-anchor="middle" class="sans">d</text>
</svg>
</body></html>
